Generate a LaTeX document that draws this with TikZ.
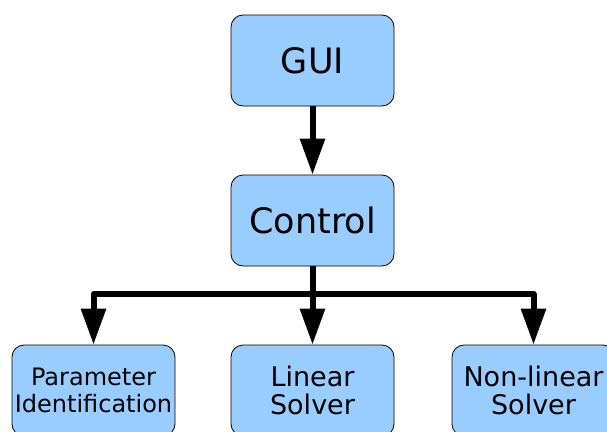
\documentclass[tikz,border=0pt]{standalone}
\usepackage{fontspec}
\setmainfont{DejaVu Sans}
\usetikzlibrary{arrows.meta,shapes}

\definecolor{boxblue}{RGB}{153,204,255}

\tikzset{
  block/.style={draw=black,fill=boxblue,rounded corners=12pt,line width=0.8pt,
    minimum width=163pt,minimum height=91pt,inner sep=0pt,align=center},
  bigtext/.style={font=\fontsize{35}{40}\selectfont},
  midtext/.style={font=\fontsize{27}{28.5}\selectfont},
  smalltext/.style={font=\fontsize{24}{27.5}\selectfont},
  link/.style={line width=6pt,line join=round,-{Triangle[width=24pt,length=36pt]}},
}

\begin{document}
\begin{tikzpicture}[x=1pt,y=-1pt]
\useasboundingbox (0,0) rectangle (607,431);
\clip (0,0) rectangle (607,431);

% top of the chain
\node[block,bigtext] (gui) at (312.5,60.5) {GUI};
\node[block,bigtext] (control) at (312.5,220.5) {Control};

% solver modules
\node[block,smalltext] (param) at (93.5,390.5) {Parameter\\Identification};
\node[block,midtext] (linear) at (312.5,390.5) {Linear\\Solver};
\node[block,midtext] (nonlinear) at (533.5,390.5) {Non-linear\\Solver};

% connectors
\coordinate (bus) at (312.5,294);
\draw[link] (gui) -- (control);
\draw[line width=6pt] (control) -- (bus);
\draw[link] (bus) -| (param);
\draw[link] (bus) -- (linear);
\draw[link] (bus) -| (nonlinear);
\end{tikzpicture}
\end{document}
